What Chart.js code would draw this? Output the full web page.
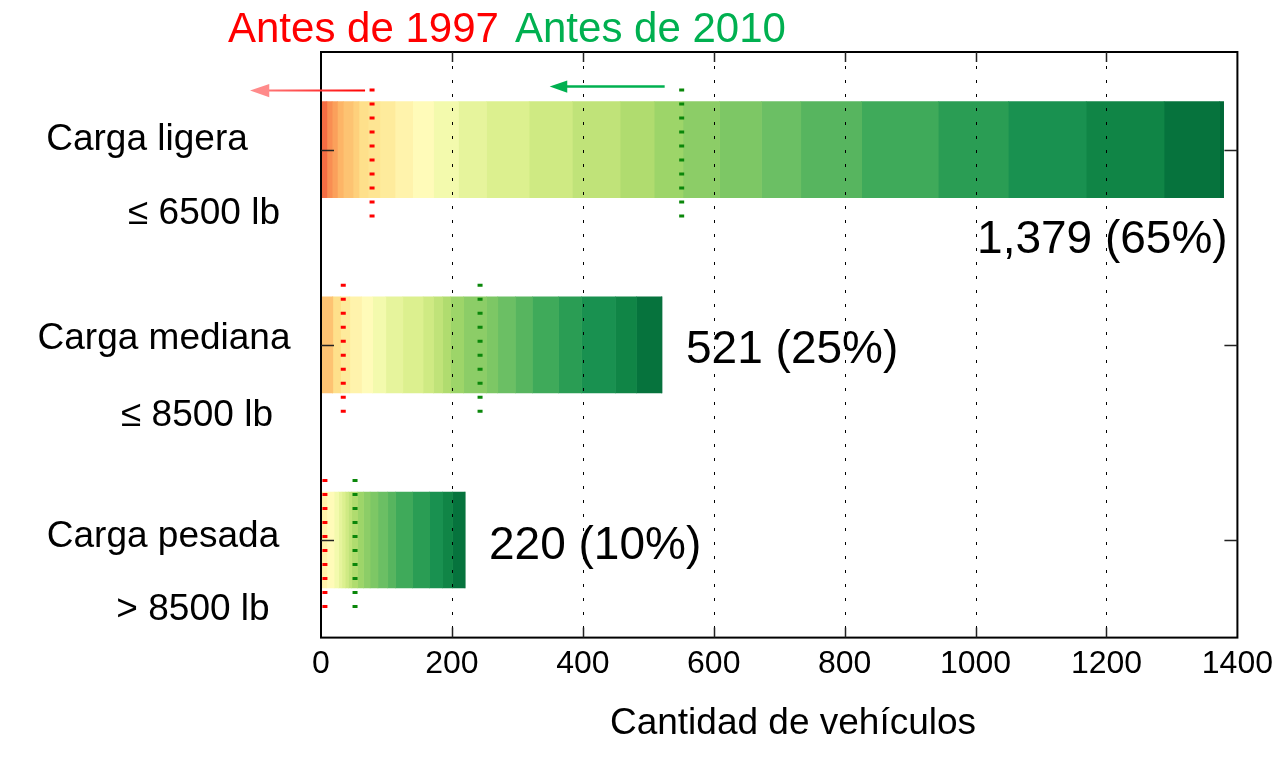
<!DOCTYPE html>
<html>
<head>
<meta charset="utf-8">
<script src="https://cdn.jsdelivr.net/npm/chart.js@4.4.1/dist/chart.umd.min.js"></script>
<style>
    body { margin: 0; background: #fff; }
    #wrap { width: 1280px; height: 760px; }
</style>
</head>
<body>
<div id="wrap"><canvas id="chart" width="1280" height="760"></canvas></div>
<script>
// --- Datos ---
const categories = ['Carga ligera', 'Carga mediana', 'Carga pesada'];
const weightLabels = ['\u2264 6500 lb', '\u2264 8500 lb', '> 8500 lb'];

// vehículos por año de modelo (de más antiguo a más nuevo), un tramo por año
const lightCounts  = [9, 8, 8, 9, 15, 9, 14, 18, 23, 27, 32, 38, 43, 65, 66, 73, 52, 44, 56, 64, 60, 93, 117, 107, 119, 119, 85, 6];
const mediumCounts = [0, 0, 0, 0, 18, 0, 12, 0, 14, 18, 17, 20, 26, 31, 16, 14, 12, 20, 35, 17, 27, 26, 40, 35, 52, 32, 38, 1];
const heavyCounts  = [0, 0, 0, 0, 0, 0, 0, 0, 0, 9, 11, 7, 5, 5, 5, 5, 9, 9, 10, 12, 15, 12, 26, 26, 20, 15, 19, 0];

const totals = [1379, 521, 220];
const shares = [65, 25, 10];

// acumulado antes de 1997 y antes de 2010
const before1997 = [78, 34, 6];
const before2010 = [551, 243, 52];

const xTicks = [0, 200, 400, 600, 800, 1000, 1200, 1400];

// colores por año (RdYlGn)
const yearColors = ['#f46d43', '#f98e52', '#fba05b', '#fdb567', '#fdc372', '#fed07c', '#fee08b', '#fee593',
    '#feeb9c', '#fff3ac', '#fffbb9', '#f3faad', '#e6f49c', '#dcf08f', '#cfea83', '#c0e379', '#b0dc6f',
    '#9dd569', '#8ccd67', '#7dc765', '#6bbf64', '#57b55f', '#3faa5a', '#2a9d54', '#199150', '#108546',
    '#06733d', '#006837'];

const FONT = "'Liberation Sans', Arial, sans-serif";

const datasets = yearColors.map((color, i) => ({
    label: 'Tramo ' + (i + 1),
    data: [lightCounts[i], mediumCounts[i], heavyCounts[i]],
    backgroundColor: color,
    borderWidth: 0,
    barThickness: 96
}));

// --- Plugin: rejilla, marco, marcadores, textos ---
const overlay = {
    id: 'overlay',
    afterDatasetsDraw(chart) {
        const ctx = chart.ctx;
        const area = chart.chartArea;
        const xs = chart.scales.x;
        const ys = chart.scales.y;

        ctx.save();

        // rejilla punteada encima de las barras
        ctx.strokeStyle = '#000';
        ctx.lineWidth = 1;
        ctx.setLineDash([3, 11]);
        xTicks.slice(1, -1).forEach(v => {
            const x = Math.round(xs.getPixelForValue(v)) + 0.5;
            ctx.beginPath();
            ctx.moveTo(x, area.top);
            ctx.lineTo(x, area.bottom);
            ctx.stroke();
        });

        // marcadores antes de 1997 / 2010
        ctx.lineWidth = 5;
        ctx.setLineDash([3, 11]);
        categories.forEach((c, i) => {
            const yc = ys.getPixelForValue(i);
            [[before1997[i], '#ff0000'], [before2010[i], '#0a870a']].forEach(([v, col]) => {
                const x = xs.getPixelForValue(v);
                ctx.strokeStyle = col;
                ctx.beginPath();
                ctx.moveTo(x, yc - 61);
                ctx.lineTo(x, yc + 70);
                ctx.stroke();
            });
        });
        ctx.setLineDash([]);

        // marco
        ctx.strokeStyle = '#000';
        ctx.lineWidth = 2;
        ctx.strokeRect(area.left, area.top, area.right - area.left, area.bottom - area.top);

        // marcas de los ejes hacia dentro
        ctx.lineWidth = 1.5;
        ctx.strokeStyle = '#222';
        xTicks.slice(1, -1).forEach(v => {
            const x = Math.round(xs.getPixelForValue(v)) + 0.5;
            ctx.beginPath();
            ctx.moveTo(x, area.top); ctx.lineTo(x, area.top + 10);
            ctx.moveTo(x, area.bottom); ctx.lineTo(x, area.bottom - 10);
            ctx.stroke();
        });
        categories.forEach((c, i) => {
            const y = Math.round(ys.getPixelForValue(i)) + 0.5;
            ctx.beginPath();
            ctx.moveTo(area.left, y); ctx.lineTo(area.left + 13, y);
            ctx.moveTo(area.right, y); ctx.lineTo(area.right - 13, y);
            ctx.stroke();
        });

        // flechas
        const yTop = ys.getPixelForValue(0);
        const drawArrow = (x0, x1, y, c0, c1, w, head) => {
            const g = ctx.createLinearGradient(x1, 0, x0, 0);
            g.addColorStop(0, c1);
            g.addColorStop(1, c0);
            ctx.strokeStyle = g;
            ctx.lineWidth = w;
            ctx.beginPath();
            ctx.moveTo(x0, y);
            ctx.lineTo(x1 + head, y);
            ctx.stroke();
            ctx.fillStyle = c1;
            ctx.beginPath();
            ctx.moveTo(x1, y);
            ctx.lineTo(x1 + head * 1.6, y - head * 0.55);
            ctx.lineTo(x1 + head * 1.6, y + head * 0.55);
            ctx.closePath();
            ctx.fill();
        };
        const rx = xs.getPixelForValue(before1997[0]);
        drawArrow(rx - 7, rx - 122, yTop - 59, '#ff0000', '#ff8a8a', 2, 12);
        const gx = xs.getPixelForValue(before2010[0]);
        drawArrow(gx - 17, gx - 132, yTop - 63, '#00b050', '#00b050', 2.5, 11);

        // títulos
        ctx.textBaseline = 'alphabetic';
        ctx.textAlign = 'left';
        ctx.font = '42px ' + FONT;
        ctx.fillStyle = '#ff0000';
        ctx.fillText('Antes de 1997', 228, 42);
        ctx.fillStyle = '#00b050';
        ctx.fillText('Antes de 2010', 515, 42);

        // etiquetas de categoría
        const nameX = [147, 164, 163];
        const weightX = [204, 197, 193];
        const nameDy = [-10, -6, -3];
        const weightDy = [64, 71, 70];
        ctx.fillStyle = '#000';
        ctx.textAlign = 'center';
        ctx.textBaseline = 'middle';
        ctx.font = '37px ' + FONT;
        categories.forEach((c, i) => {
            const yc = ys.getPixelForValue(i);
            ctx.fillText(c, nameX[i], yc + nameDy[i]);
            ctx.fillText(weightLabels[i], weightX[i], yc + weightDy[i]);
        });

        // valores
        ctx.font = '46px ' + FONT;
        totals.forEach((t, i) => {
            const yc = ys.getPixelForValue(i);
            const xe = xs.getPixelForValue(t);
            const txt = t.toLocaleString('en-US') + ' (' + shares[i] + '%)';
            if (i === 0) {
                ctx.textAlign = 'right';
                ctx.fillText(txt, xe + 4, yc + 91);
            } else {
                ctx.textAlign = 'left';
                ctx.fillText(txt, xe + 24, yc + 6);
            }
        });

        // título del eje x
        ctx.textAlign = 'center';
        ctx.font = '37px ' + FONT;
        ctx.fillText('Cantidad de vehículos', 793, 724);

        ctx.restore();
    }
};

new Chart(document.getElementById('chart'), {
    type: 'bar',
    data: { labels: categories, datasets: datasets },
    options: {
        indexAxis: 'y',
        responsive: false,
        animation: false,
        devicePixelRatio: 1,
        layout: { padding: { left: 321, right: 40, top: 52, bottom: 70 } },
        plugins: {
            legend: { display: false },
            tooltip: { enabled: false }
        },
        scales: {
            x: {
                stacked: true,
                min: 0,
                max: 1400,
                afterBuildTicks: axis => { axis.ticks = xTicks.map(v => ({ value: v })); },
                ticks: {
                    color: '#000',
                    font: { family: FONT, size: 32 },
                    padding: 7,
                    maxRotation: 0,
                    callback: v => String(v)
                },
                grid: { display: false, drawTicks: false },
                border: { display: false }
            },
            y: {
                stacked: true,
                ticks: { display: false },
                grid: { display: false, drawTicks: false },
                border: { display: false }
            }
        }
    },
    plugins: [overlay]
});
</script>
</body>
</html>
